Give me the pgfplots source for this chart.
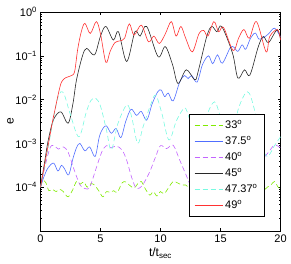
\documentclass[border=0pt]{standalone}
\usepackage{fontspec}
\setmainfont{Liberation Sans}
\usepackage{pgfplots}
\pgfplotsset{compat=1.18}
\definecolor{cgreen}{RGB}{128,235,0}
\definecolor{cblue}{RGB}{80,110,255}
\definecolor{cmag}{RGB}{195,100,255}
\definecolor{cblack}{RGB}{40,40,40}
\definecolor{ccyan}{RGB}{120,250,225}
\definecolor{cred}{RGB}{255,50,50}
\begin{document}
\begin{tikzpicture}[font=\fontsize{11}{13}\selectfont]
\begin{axis}[
  scale only axis, width=240pt, height=219pt,
  at={(0,0)}, anchor=south west,
  ymode=log, xmin=0, xmax=20, ymin=1e-5, ymax=1,
  xtick={0,5,10,15,20},
  ytick={1e-5,1e-4,1e-3,1e-2,1e-1,1},
  yticklabels={,10\textsuperscript{−4},10\textsuperscript{−3},10\textsuperscript{−2},10\textsuperscript{−1},10\textsuperscript{0}},
  /pgf/number format/assume math mode=true,
  tick label style={font=\fontsize{11}{13}\selectfont},
  major tick length=3pt, minor tick length=1.8pt,
  tick style={black, line width=0.4pt},
  axis line style={line width=0.5pt},
  xlabel={t/t\textsubscript{sec}}, ylabel={e},
  label style={font=\fontsize{12}{14}\selectfont},
  xlabel style={at={(axis description cs:0.5,-0.1)}, anchor=center},
  ylabel style={at={(axis description cs:-0.125,0.5)}, anchor=center},
  legend style={at={(axis description cs:0.619,0.534)}, anchor=north west,
    draw=black, fill=white, font=\fontsize{11}{13}\selectfont,
    row sep=2.5pt, inner xsep=5pt, inner ysep=4pt,
    nodes={inner ysep=2pt}},
  legend cell align=left,
  every axis plot/.append style={line width=0.6pt},
]
\addlegendimage{draw=cgreen, line width=0.9pt, dash pattern=on 5pt off 3pt}
\addlegendentry{33\textsuperscript{o}}
\addlegendimage{draw=cblue, line width=0.9pt}
\addlegendentry{37.5\textsuperscript{o}}
\addlegendimage{draw=cmag, line width=0.9pt, dash pattern=on 5pt off 3pt}
\addlegendentry{40\textsuperscript{o}}
\addlegendimage{draw=cblack, line width=0.9pt}
\addlegendentry{45\textsuperscript{o}}
\addlegendimage{draw=ccyan, line width=0.9pt, dash pattern=on 5pt off 3pt}
\addlegendentry{47.37\textsuperscript{o}}
\addlegendimage{draw=cred, line width=0.9pt}
\addlegendentry{49\textsuperscript{o}}
\pgfplotsset{legend image code/.code={\draw[#1] (0pt,0pt) -- (28pt,0pt);}}
\addplot[draw=cgreen, smooth, tension=0.55, dash pattern=on 5pt off 3pt, forget plot] coordinates {
(0,1e-4) (0.2,1.41e-4) (0.45,1.26e-4) (0.7,8.32e-5) (1.0,8.91e-5) (1.3,7.94e-5) (1.6,8.91e-5) (1.9,7.94e-5) (2.3,6.03e-5) (2.7,8.91e-5) (3.0,1.35e-4) (3.3,1.17e-4) (3.6,1.32e-4) (3.9,1e-4) (4.2,1.2e-4) (4.5,1.12e-4) (4.9,7.94e-5) (5.2,6.03e-5) (5.5,7.94e-5) (5.8,7.59e-5) (6.1,8.32e-5) (6.4,7.59e-5) (6.8,1.26e-4) (7.1,1.32e-4) (7.4,1.12e-4) (7.8,9.55e-5) (8.1,1.2e-4) (8.4,1.35e-4) (8.7,9.55e-5) (9.1,6.61e-5) (9.4,7.94e-5) (9.7,6.31e-5) (10.0,7.94e-5) (10.3,7.08e-5) (10.7,1e-4) (11.05,1.35e-4) (11.4,1.26e-4) (11.8,1.12e-4) (12.1,1.12e-4) (12.5,8.91e-5) (13.0,6.31e-5) (13.5,7.94e-5) (14.0,1.26e-4) (14.5,1.12e-4) (15.0,7.94e-5) (15.5,6.31e-5) (16.0,8.91e-5) (16.5,1.26e-4) (17.0,1.12e-4) (17.5,7.08e-5) (18.0,6.31e-5) (18.5,7.94e-5) (18.9,1e-4) (19.2,1.12e-4) (19.5,1.35e-4) (19.8,1e-4) (20,9.33e-5)
};
\addplot[draw=cblue, smooth, tension=0.55, forget plot] coordinates {
(0,1e-4) (0.3,1.78e-4) (0.65,2.82e-4) (1.1,3.55e-4) (1.45,2.34e-4) (1.75,3.16e-4) (2.0,2.63e-4) (2.35,1.91e-4) (2.7,4.47e-4) (3.0,7.94e-4) (3.28,1.0e-3) (3.7,6.76e-4) (4.1,8.32e-4) (4.55,5.01e-4) (4.9,1.41e-3) (5.2,2.19e-3) (5.5,2.51e-3) (5.9,1.70e-3) (6.3,2.19e-3) (6.7,1.35e-3) (7.1,3.16e-3) (7.55,6.03e-3) (8.0,4.37e-3) (8.4,5.37e-3) (8.85,3.39e-3) (9.3,7.94e-3) (9.75,1.48e-2) (10.05,1.66e-2) (10.35,1.17e-2) (10.65,1.41e-2) (11.05,9.33e-3) (11.6,2.51e-2) (12.0,3.55e-2) (12.3,3.02e-2) (12.6,3.55e-2) (13.05,2.51e-2) (13.5,6.31e-2) (14.0,0.1) (14.35,6.61e-2) (14.75,0.105) (15.15,6.76e-2) (15.8,0.151) (16.1,0.158) (16.45,0.126) (16.8,0.178) (17.1,0.141) (17.5,0.251) (17.9,0.331) (18.2,0.240) (18.6,0.263) (19.0,0.316) (19.5,0.427) (20,0.269)
};
\addplot[draw=cmag, smooth, tension=0.55, dash pattern=on 5pt off 3pt, forget plot] coordinates {
(0,1e-4) (0.4,3.16e-4) (0.8,7.94e-4) (1.1,8.91e-4) (1.5,7.41e-4) (1.9,8.32e-4) (2.3,6.31e-4) (2.8,2.51e-4) (3.3,1.12e-4) (3.7,9.33e-5) (4.1,1e-4) (4.6,2.51e-4) (5.1,6.31e-4) (5.5,8.91e-4) (5.9,7.94e-4) (6.3,8.71e-4) (6.8,7.08e-4) (7.2,3.98e-4) (7.6,1.66e-4) (8.0,9.33e-5) (8.5,1.12e-4) (9.1,2.24e-4) (9.6,5.01e-4) (10.0,8.91e-4) (10.5,7.59e-4) (11.05,9.12e-4) (11.6,4.17e-4) (12.1,2.0e-4) (12.6,1e-4) (13.2,9.33e-5) (13.8,2.51e-4) (14.4,7.08e-4) (14.8,8.91e-4) (15.3,7.94e-4) (15.8,8.91e-4) (16.3,5.01e-4) (16.8,1.58e-4) (17.3,9.55e-5) (17.8,1.26e-4) (18.3,2.82e-4) (18.7,5.01e-4) (19.0,6.31e-4) (19.5,9.12e-4) (20,7.94e-4)
};
\addplot[draw=cblack, smooth, tension=0.55, forget plot] coordinates {
(0,1e-4) (0.3,3.16e-4) (0.65,1.2e-3) (1.1,3.55e-3) (1.7,5.25e-3) (2.3,2.88e-3) (2.7,8.0e-3) (3.0,2.82e-2) (3.5,0.1) (3.85,0.148) (4.5,0.105) (5.0,0.282) (5.45,0.468) (6.07,0.229) (6.5,0.355) (7.18,7.41e-2) (7.87,0.355) (8.3,0.282) (8.85,0.468) (9.8,9.55e-2) (10.4,0.162) (11.0,6.31e-2) (11.46,2.34e-2) (12.15,4.79e-2) (12.85,2.82e-2) (13.1,3.98e-2) (13.85,0.275) (14.27,0.468) (14.7,0.355) (15.1,0.468) (16.0,0.115) (16.45,3.09e-2) (17.0,4.79e-2) (17.45,3.63e-2) (18.15,0.162) (18.57,0.275) (19.0,0.2) (19.7,0.389) (20,0.251)
};
\addplot[draw=ccyan, smooth, tension=0.55, dash pattern=on 5pt off 3pt, forget plot] coordinates {
(0,1e-4) (0.5,5.01e-4) (1.0,2.82e-3) (1.4,1e-2) (1.7,1.51e-2) (2.0,1.26e-2) (2.5,4.47e-3) (3.2,1.41e-3) (3.8,5.01e-3) (4.2,9.55e-3) (4.6,1.07e-2) (5.0,7.08e-3) (5.5,2.0e-3) (5.9,7.08e-4) (6.45,2.82e-3) (7.2,7.59e-3) (7.6,3.98e-3) (8.1,1e-3) (8.55,2.40e-3) (9.2,7.94e-3) (9.6,1.26e-2) (10.1,5.01e-3) (10.7,1.20e-3) (11.3,3.16e-3) (11.8,5.62e-3) (12.1,6.31e-3) (12.6,2.51e-3) (13.2,1e-3) (13.8,3.98e-3) (14.5,8.91e-3) (15.0,3.98e-3) (15.8,1e-3) (16.5,6.31e-3) (17.25,1.51e-2) (17.8,6.31e-3) (18.4,1e-3) (18.9,5.01e-4) (19.5,8.91e-4) (20,1.41e-3)
};
\addplot[draw=cred, smooth, tension=0.55, forget plot] coordinates {
(0,1e-4) (0.5,5.62e-4) (1.0,3.16e-3) (1.2,5.75e-3) (1.5,1.41e-2) (1.75,2.51e-2) (2.1,3.16e-2) (2.6,3.55e-2) (2.85,4.47e-2) (3.1,0.141) (3.4,0.355) (3.7,0.55) (4.15,0.324) (4.65,0.603) (5.0,0.316) (5.45,7.08e-2) (5.8,0.126) (6.2,0.2) (6.6,0.219) (7.0,0.251) (7.4,0.537) (7.8,0.295) (8.4,0.501) (9.0,0.209) (9.45,0.282) (9.9,0.191) (10.4,0.316) (10.9,0.603) (11.3,0.282) (11.7,0.468) (12.1,0.251) (12.65,0.123) (13.2,0.316) (13.6,0.38) (13.95,0.282) (14.45,0.603) (14.85,0.355) (15.25,0.447) (16.05,0.132) (16.5,0.251) (16.95,0.398) (17.4,0.251) (18.0,0.603) (18.8,0.123) (19.1,0.275) (19.75,0.398) (20,0.229)
};
\end{axis}
\pgfresetboundingbox
\path[use as bounding box] (-40.5pt,-33pt) rectangle (250.5pt,231pt);
\end{tikzpicture}
\end{document}
